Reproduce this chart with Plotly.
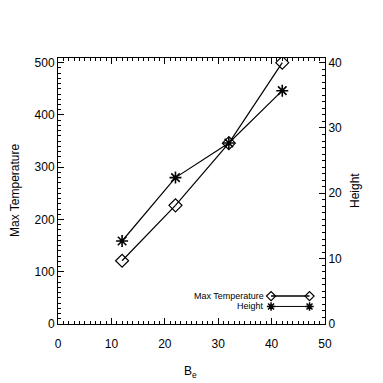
import plotly.graph_objects as go

# ---- data ----
b_e = [12, 22, 32, 42]
max_temperature = [121, 227, 346, 500]
height = [12.7, 22.4, 27.7, 35.7]

x_ticks = [0, 10, 20, 30, 40, 50]
y_ticks = [0, 100, 200, 300, 400, 500]
y2_ticks = [0, 10, 20, 30, 40]

series_names = ["Max Temperature", "Height"]
x_title = "B<sub>e</sub>"

FONT = "Liberation Sans, Arial, sans-serif"

fig = go.Figure()

fig.add_trace(go.Scatter(
    x=b_e, y=max_temperature, mode="lines+markers", name=series_names[0],
    line=dict(color="black", width=1.2),
    marker=dict(symbol="diamond-open", size=10, color="black", line=dict(width=1.2)),
    showlegend=False,
))
fig.add_trace(go.Scatter(
    x=b_e, y=height, mode="lines+markers", name=series_names[1], yaxis="y2",
    line=dict(color="black", width=1.2),
    marker=dict(symbol="asterisk-open", size=10, color="black", line=dict(width=1.6)),
    showlegend=False,
))

# ---- IDL-style legend (text, then a line with a symbol at each end) ----
leg_x0, leg_x1, leg_text_x = 0.798, 0.942, 0.779
leg_rows = [0.105, 0.066]
leg_symbols = [("diamond-open", 7, 1.2), ("asterisk-open", 7, 1.5)]
for name, yy, (sym, sz, lw) in zip(series_names, leg_rows, leg_symbols):
    fig.add_trace(go.Scatter(
        x=[leg_x0, leg_x1], y=[yy, yy], mode="lines+markers", xaxis="x3", yaxis="y3",
        line=dict(color="black", width=1.6 if sym.startswith("diamond") else 1.0),
        marker=dict(symbol=sym, size=sz, color="black", line=dict(width=lw)),
        showlegend=False, hoverinfo="skip",
    ))
    fig.add_annotation(x=leg_text_x, y=yy, xref="paper", yref="paper", text=name,
                       showarrow=False, xanchor="right", yanchor="middle",
                       font=dict(size=9, family=FONT, color="black"))

# ---- axis titles ----
title_font = dict(size=12, family=FONT, color="black")
fig.add_annotation(x=0, y=0.5, xref="paper", yref="paper", text=series_names[0],
                   textangle=-90, showarrow=False, xanchor="center", yanchor="middle",
                   xshift=-43, font=title_font)
fig.add_annotation(x=1, y=0.5, xref="paper", yref="paper", text=series_names[1],
                   textangle=-90, showarrow=False, xanchor="center", yanchor="middle",
                   xshift=30, font=title_font)
fig.add_annotation(x=0.5, y=0, xref="paper", yref="paper", text=x_title,
                   showarrow=False, xanchor="center", yanchor="middle",
                   xshift=-1, yshift=-48, font=title_font)

axis_common = dict(
    showline=True, linecolor="black", linewidth=1, showgrid=False, zeroline=False,
    ticks="inside", tickcolor="black", ticklen=6, tickwidth=1, automargin=False,
    tickfont=dict(size=12, family=FONT, color="black"),
)

fig.update_layout(
    width=375, height=375,
    margin=dict(l=50, r=58, t=50, b=59),
    paper_bgcolor="white", plot_bgcolor="white",
    font=dict(family=FONT, color="black"),
    xaxis=dict(
        **axis_common, range=[0, 50], tickvals=x_ticks, mirror="ticks",
        ticklabelstandoff=9,
        minor=dict(ticks="inside", dtick=1, ticklen=3, tickcolor="black", tickwidth=1),
    ),
    yaxis=dict(
        **axis_common, range=[0, 509], tickvals=y_ticks,
        minor=dict(ticks="inside", dtick=10, ticklen=3, tickcolor="black", tickwidth=1),
    ),
    yaxis2=dict(
        **axis_common, range=[0, 40.7], tickvals=y2_ticks, overlaying="y", side="right",
        minor=dict(ticks="inside", dtick=1, ticklen=3, tickcolor="black", tickwidth=1),
    ),
    xaxis3=dict(overlaying="x", range=[0, 1], visible=False, automargin=False),
    yaxis3=dict(overlaying="y", range=[0, 1], visible=False, automargin=False),
)

fig.write_html("out.html")
